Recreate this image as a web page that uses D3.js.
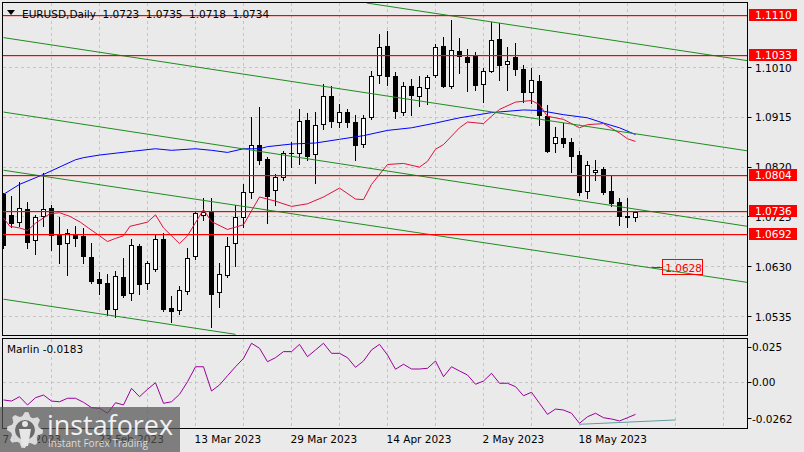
<!DOCTYPE html>
<html lang="en">
<head>
<meta charset="UTF-8">
<script src="https://d3js.org/d3.v7.min.js"></script>
<style>
  body { margin: 0; background: #eaeaea; }
  svg { display: block; font-family: "DejaVu Sans", sans-serif; }
  .lbl { font-size: 10.5px; fill: #000; }
  .grid { stroke: #c4c4c4; stroke-width: 1; stroke-dasharray: 3,3; shape-rendering: crispEdges; }
</style>
</head>
<body>
<svg id="chart" width="804" height="452"></svg>
<script>
// ---- data ----
const dates = ["2023-02-07","2023-02-08","2023-02-09","2023-02-10","2023-02-13","2023-02-14","2023-02-15","2023-02-16","2023-02-17","2023-02-20",
  "2023-02-21","2023-02-22","2023-02-23","2023-02-24","2023-02-27","2023-02-28","2023-03-01","2023-03-02","2023-03-03","2023-03-06",
  "2023-03-07","2023-03-08","2023-03-09","2023-03-10","2023-03-13","2023-03-14","2023-03-15","2023-03-16","2023-03-17","2023-03-20",
  "2023-03-21","2023-03-22","2023-03-23","2023-03-24","2023-03-27","2023-03-28","2023-03-29","2023-03-30","2023-03-31","2023-04-03",
  "2023-04-04","2023-04-05","2023-04-06","2023-04-07","2023-04-10","2023-04-11","2023-04-12","2023-04-13","2023-04-14","2023-04-17",
  "2023-04-18","2023-04-19","2023-04-20","2023-04-21","2023-04-24","2023-04-25","2023-04-26","2023-04-27","2023-04-28","2023-05-01",
  "2023-05-02","2023-05-03","2023-05-04","2023-05-05","2023-05-08","2023-05-09","2023-05-10","2023-05-11","2023-05-12","2023-05-15",
  "2023-05-16","2023-05-17","2023-05-18","2023-05-19","2023-05-22","2023-05-23","2023-05-24","2023-05-25","2023-05-26","2023-05-29"];

const opens = [1.0768,1.0727,1.0714,1.0739,1.0680,1.0726,1.0741,1.0689,1.0674,1.0691,
  1.0687,1.0647,1.0605,1.0598,1.0548,1.0609,1.0578,1.0668,1.0598,1.0624,
  1.0682,1.0550,1.0546,1.0582,1.0649,1.0727,1.0733,1.0580,1.0613,1.0674,
  1.0724,1.0771,1.0861,1.0834,1.0775,1.0800,1.0846,1.0846,1.0909,1.0844,
  1.0901,1.0955,1.0905,1.0924,1.0905,1.0863,1.0915,1.0995,1.1050,1.0993,
  1.0924,1.0974,1.0955,1.0970,1.0995,1.1050,1.0974,1.1041,1.1029,1.1031,
  1.0978,1.1002,1.1064,1.1016,1.1029,1.1006,1.0962,1.0983,1.0917,1.0865,
  1.0875,1.0867,1.0842,1.0773,1.0810,1.0815,1.0773,1.0752,1.0726,1.0723];
const highs = [1.0771,1.0764,1.0792,1.0754,1.0729,1.0809,1.0747,1.0725,1.0701,1.0707,
  1.0704,1.0675,1.0620,1.0617,1.0622,1.0647,1.0682,1.0674,1.0640,1.0693,
  1.0695,1.0575,1.0594,1.0666,1.0737,1.0762,1.0762,1.0638,1.0687,1.0747,
  1.0787,1.0915,1.0934,1.0840,1.0806,1.0850,1.0867,1.0930,1.0924,1.0926,
  1.0978,1.0974,1.0941,1.0930,1.0920,1.0920,1.1004,1.1073,1.1079,1.1002,
  1.0983,1.0989,1.0993,1.0995,1.1054,1.1069,1.1100,1.1066,1.1046,1.1039,
  1.1010,1.1096,1.1094,1.1050,1.1056,1.1014,1.1010,1.0995,1.0939,1.0896,
  1.0905,1.0876,1.0850,1.0831,1.0834,1.0821,1.0804,1.0762,1.0762,1.0735];
const lows = [1.0666,1.0706,1.0708,1.0666,1.0655,1.0707,1.0661,1.0637,1.0615,1.0670,
  1.0638,1.0599,1.0578,1.0538,1.0535,1.0573,1.0567,1.0577,1.0588,1.0622,
  1.0546,1.0525,1.0540,1.0577,1.0645,1.0720,1.0515,1.0554,1.0611,1.0632,
  1.0705,1.0762,1.0825,1.0714,1.0748,1.0796,1.0821,1.0825,1.0834,1.0790,
  1.0892,1.0896,1.0897,1.0897,1.0834,1.0859,1.0911,1.0981,1.0976,1.0913,
  1.0920,1.0920,1.0936,1.0941,1.0991,1.0972,1.0970,1.0999,1.0966,1.0968,
  1.0945,1.1001,1.0987,1.0968,1.0995,1.0945,1.0943,1.0901,1.0848,1.0848,
  1.0859,1.0811,1.0766,1.0762,1.0796,1.0768,1.0745,1.0710,1.0705,1.0718];
const closes = [1.0670,1.0712,1.0741,1.0676,1.0723,1.0739,1.0689,1.0673,1.0694,1.0684,
  1.0649,1.0601,1.0598,1.0548,1.0611,1.0575,1.0670,1.0596,1.0636,1.0682,
  1.0548,1.0544,1.0584,1.0645,1.0731,1.0733,1.0577,1.0615,1.0668,1.0724,
  1.0771,1.0861,1.0832,1.0764,1.0800,1.0846,1.0845,1.0907,1.0840,1.0899,
  1.0955,1.0907,1.0924,1.0905,1.0861,1.0913,1.0993,1.1048,1.0993,1.0926,
  1.0974,1.0957,1.0972,1.0991,1.1048,1.0974,1.1043,1.1031,1.1020,1.0976,
  1.1002,1.1062,1.1014,1.1022,1.1006,1.0962,1.0985,1.0918,1.0850,1.0876,
  1.0865,1.0840,1.0771,1.0823,1.0813,1.0771,1.0750,1.0726,1.0723,1.0734];

// moving averages, [bar index, price]
const maFast = [[0,1.0723],[0.8,1.0707],[2,1.0704],[3,1.0699],[4,1.0713],[5,1.0723],[5.8,1.0731],[7,1.0733],
  [8.3,1.0726],[9.6,1.0715],[10.6,1.0704],[12,1.0689],[13,1.0678],[14,1.0684],[15,1.0689],[15.8,1.0707],
  [18,1.0715],[19,1.0729],[20,1.0704],[22,1.0674],[23,1.0689],[25,1.0739],[26,1.0716],[28,1.0701],
  [30,1.0710],[32,1.0763],[34,1.0755],[36,1.0745],[38,1.0750],[40,1.0763],[42,1.0780],[44,1.0759],[45,1.0758],
  [46,1.0787],[48,1.0825],[50,1.0827],[52,1.0820],[53,1.0831],[54,1.0854],[55,1.0863],[57,1.0895],[58,1.0906],
  [60,1.0903],[61,1.0917],[62,1.0930],[64,1.0944],[66,1.0947],[67,1.0939],[68,1.0917],[70,1.0911],[72,1.0895],
  [73,1.0901],[75,1.0903],[77,1.0885],[78,1.0874],[79,1.0869]];
const maSlow = [[0,1.0768],[2,1.0787],[5,1.0806],[9,1.0834],[10,1.0838],[12,1.0843],[16,1.0850],[19,1.0855],
  [21,1.0852],[24,1.0855],[26,1.0852],[28,1.0848],[30,1.0855],[32,1.0855],[33,1.0859],[36,1.0864],[39,1.0866],
  [42,1.0873],[45,1.0880],[48,1.0890],[51,1.0895],[54,1.0904],[57,1.0914],[61,1.0924],[65,1.0929],[67,1.0928],
  [70,1.0920],[73,1.0914],[75,1.0904],[77,1.0895],[79,1.0882]];

// Marlin oscillator, one value per bar
const marlin = [-0.0126,-0.0134,-0.0103,-0.0162,-0.0110,-0.0091,-0.0134,-0.0139,-0.0114,-0.0114,
  -0.0143,-0.0181,-0.0186,-0.0221,-0.0146,-0.0162,-0.0043,-0.0103,-0.0050,-0.0003,
  -0.0150,-0.0139,-0.0086,0.0004,0.0111,0.0111,-0.0062,-0.0019,0.0047,0.0111,
  0.0171,0.0279,0.0243,0.0147,0.0176,0.0219,0.0219,0.0271,0.0183,0.0231,
  0.0279,0.0207,0.0207,0.0176,0.0107,0.0152,0.0231,0.0271,0.0195,0.0093,
  0.0129,0.0095,0.0095,0.0100,0.0152,0.0040,0.0111,0.0081,0.0052,-0.0014,
  0.0009,0.0064,-0.0007,-0.0007,-0.0031,-0.0096,-0.0071,-0.0150,-0.0229,-0.0191,
  -0.0198,-0.0221,-0.0293,-0.0246,-0.0221,-0.0253,-0.0262,-0.0276,-0.0253,-0.0229];
const marlinLevel = [[72,-0.0300],[84,-0.0269]];
const marlinReading = -0.0183;

// drawn objects
const levels = [1.1110, 1.1033, 1.0804, 1.0736, 1.0692];
const channels = [[45.4,1.1133,93,1.1023],[0,1.1067,93,1.0851],[0,1.0925,93,1.0707],[0,1.0814,93,1.0600],[0,1.0568,29,1.0501]];
const target = {i: 82.4, price: 1.0628};

const priceTicks = [1.1010, 1.0915, 1.0820, 1.0725, 1.0630, 1.0535];
const marlinTicks = [0.025, 0, -0.0262];
const marlinTickLabels = ["0.025", "0.00", "-0.0262"];
const dateTickEvery = 12;
const titleValues = ["1.0723", "1.0735", "1.0718", "1.0734"];

// ---- layout ----
const svg = d3.select("#chart");
const plot = {left: 2.5, right: 747.5, top: 2.5, bottom: 335.5};
const sub = {top: 338.5, bottom: 428.5};

const x = d3.scaleLinear().domain([0, 79]).range([3.5, 635.5]);
const y = d3.scaleLinear().domain([1.1010, 1.0535]).range([67.5, 316.5]);
const ym = d3.scaleLinear().domain([0, 0.025]).range([382.3, 347.3]);
const snap = v => Math.round(v - 0.5) + 0.5;
const fmtDate = d3.utcFormat("%-d %b %Y");

svg.append("rect").attr("width", 804).attr("height", 452).attr("fill", "#eaeaea");

const defs = svg.append("defs");
defs.append("clipPath").attr("id", "clipMain").append("rect")
    .attr("x", plot.left).attr("y", plot.top).attr("width", plot.right - plot.left).attr("height", plot.bottom - plot.top);
defs.append("clipPath").attr("id", "clipSub").append("rect")
    .attr("x", plot.left).attr("y", sub.top).attr("width", plot.right - plot.left).attr("height", sub.bottom - sub.top);

// grid: verticals every 6 bars, horizontals on price ticks
const vGrid = d3.range(6, 94, 6);
[[plot.top, plot.bottom], [sub.top, sub.bottom]].forEach(([t, b]) => {
    svg.append("g").selectAll("line").data(vGrid).join("line")
        .attr("class", "grid")
        .attr("x1", d => x(d)).attr("x2", d => x(d))
        .attr("y1", t).attr("y2", b);
});
svg.append("g").selectAll("line").data(priceTicks).join("line")
    .attr("class", "grid")
    .attr("x1", plot.left).attr("x2", plot.right)
    .attr("y1", d => snap(y(d))).attr("y2", d => snap(y(d)));
svg.append("line").attr("class", "grid")
    .attr("x1", plot.left).attr("x2", plot.right)
    .attr("y1", snap(ym(0))).attr("y2", snap(ym(0)));

const main = svg.append("g").attr("clip-path", "url(#clipMain)");

// candles
const candles = dates.map((d, i) => ({i, o: opens[i], h: highs[i], l: lows[i], c: closes[i]}));
main.selectAll("line.wick").data(candles).join("line")
    .attr("class", "wick")
    .attr("x1", d => x(d.i)).attr("x2", d => x(d.i))
    .attr("y1", d => Math.round(y(d.h))).attr("y2", d => Math.round(y(d.l)) + 1)
    .attr("stroke", "#000");
const bodyTop = d => snap(y(Math.max(d.o, d.c)));
const bodyBot = d => snap(y(Math.min(d.o, d.c)));
main.selectAll("rect.body").data(candles.filter(d => bodyBot(d) > bodyTop(d))).join("rect")
    .attr("class", "body")
    .attr("x", d => x(d.i) - 2).attr("width", 4)
    .attr("y", bodyTop).attr("height", d => bodyBot(d) - bodyTop(d))
    .attr("fill", d => d.c >= d.o ? "#ffffff" : "#000000")
    .attr("stroke", "#000").attr("stroke-width", 1);
main.selectAll("line.doji").data(candles.filter(d => bodyBot(d) <= bodyTop(d))).join("line")
    .attr("class", "doji")
    .attr("x1", d => x(d.i) - 2.5).attr("x2", d => x(d.i) + 2.5)
    .attr("y1", bodyTop).attr("y2", bodyTop)
    .attr("stroke", "#000");

// moving averages
const maLine = d3.line().x(d => x(d[0])).y(d => y(d[1]));
main.append("path").datum(maSlow).attr("d", maLine)
    .attr("fill", "none").attr("stroke", "#0000ff").attr("stroke-width", 1);
main.append("path").datum(maFast).attr("d", maLine)
    .attr("fill", "none").attr("stroke", "#e0103c").attr("stroke-width", 1);

// channel lines
main.selectAll("line.chan").data(channels).join("line")
    .attr("class", "chan")
    .attr("x1", d => x(d[0])).attr("y1", d => y(d[1]))
    .attr("x2", d => x(d[2])).attr("y2", d => y(d[3]))
    .attr("stroke", "#1e8c1e").attr("stroke-width", 1);

// horizontal levels on top, as 1px filled strips
main.selectAll("rect.level").data(levels).join("rect")
    .attr("class", "level")
    .attr("x", plot.left).attr("width", plot.right - plot.left)
    .attr("y", d => Math.floor(y(d))).attr("height", 1.2)
    .attr("fill", "#ff0000");

// target mark
const ty = snap(y(target.price));
main.append("rect").attr("x", x(target.i) - 11).attr("width", 11)
    .attr("y", ty - 0.5).attr("height", 1).attr("fill", "#ff0000");
main.append("rect").attr("x", snap(x(target.i))).attr("y", ty - 8)
    .attr("width", 40).attr("height", 15).attr("fill", "none").attr("stroke", "#ff0000")
    .attr("shape-rendering", "crispEdges");
main.append("text").attr("class", "lbl").attr("x", x(target.i) + 2.5).attr("y", ty + 4)
    .style("fill", "#ff0000").text(target.price.toFixed(4));

// Marlin panel
const subG = svg.append("g").attr("clip-path", "url(#clipSub)");
subG.append("path").datum(marlin)
    .attr("d", d3.line().x((d, i) => x(i)).y(d => ym(d)))
    .attr("fill", "none").attr("stroke", "#990099").attr("stroke-width", 1);
subG.append("path").datum(marlinLevel)
    .attr("d", d3.line().x(d => x(d[0])).y(d => ym(d[1])))
    .attr("fill", "none").attr("stroke", "#5f9ea0").attr("stroke-width", 1);

// frames
[[plot.top, plot.bottom], [sub.top, sub.bottom]].forEach(([t, b]) => {
    svg.append("rect").attr("x", plot.left).attr("y", t)
        .attr("width", plot.right - plot.left).attr("height", b - t)
        .attr("fill", "none").attr("stroke", "#000").attr("stroke-width", 1)
        .attr("shape-rendering", "crispEdges");
});

// right price axis
const axisG = svg.append("g");
axisG.selectAll("line").data(priceTicks).join("line")
    .attr("x1", plot.right).attr("x2", plot.right + 4)
    .attr("y1", d => snap(y(d))).attr("y2", d => snap(y(d))).attr("stroke", "#000");
axisG.selectAll("text").data(priceTicks).join("text")
    .attr("class", "lbl").attr("x", 755).attr("y", d => y(d) + 4)
    .text(d => d.toFixed(4));

// level tags
const tags = svg.append("g");
tags.selectAll("rect").data(levels).join("rect")
    .attr("x", 749).attr("y", d => Math.round(y(d)) - 6)
    .attr("width", 48).attr("height", 12).attr("fill", "#ff0000");
tags.selectAll("text").data(levels).join("text")
    .attr("class", "lbl").attr("x", 755).attr("y", d => y(d) + 4)
    .style("fill", "#ffffff").text(d => d.toFixed(4));

// Marlin axis
const mAxis = svg.append("g");
mAxis.selectAll("line").data(marlinTicks).join("line")
    .attr("x1", plot.right).attr("x2", plot.right + 4)
    .attr("y1", d => snap(ym(d))).attr("y2", d => snap(ym(d))).attr("stroke", "#000");
mAxis.selectAll("text").data(marlinTicks).join("text")
    .attr("class", "lbl").attr("x", 752).attr("y", d => ym(d) + 4)
    .text((d, i) => marlinTickLabels[i]);

svg.append("text").attr("class", "lbl").attr("x", 7).attr("y", 353)
    .text("Marlin " + marlinReading.toFixed(4));

// date axis
const dateIdx = d3.range(0, dates.length, dateTickEvery);
svg.append("g").selectAll("text").data(dateIdx).join("text")
    .attr("class", "lbl").attr("x", d => x(d) - 1).attr("y", 443)
    .text(d => fmtDate(new Date(dates[d] + "T00:00:00Z")));

// title
svg.append("path").attr("d", "M7,10 L15,10 L11,15 Z").attr("fill", "#000");
svg.append("text").attr("class", "lbl").attr("x", 22).attr("y", 17.5).text("EURUSD,Daily");
svg.append("g").selectAll("text").data(titleValues).join("text")
    .attr("class", "lbl").attr("x", (d, i) => 102.5 + i * 43.3).attr("y", 17.5).text(d => d);

// watermark
const wm = svg.append("g");
wm.append("rect").attr("x", 0).attr("y", 407).attr("width", 180).attr("height", 45)
    .attr("fill", "#555").attr("opacity", 0.72);
const gear = [];
for (let k = 0; k < 32; k++) {
    const a = (k / 32) * Math.PI * 2;
    const r = (Math.floor(k / 2) % 2 === 0) ? 18 : 14;
    gear.push([25 + r * Math.cos(a), 430 + r * Math.sin(a)]);
}
wm.append("path").attr("d", "M" + gear.map(p => p.join(",")).join("L") + "Z")
    .attr("fill", "#e6e6e6").attr("opacity", 0.9);
wm.append("circle").attr("cx", 25).attr("cy", 430).attr("r", 10).attr("fill", "#6a6a6a");
wm.append("circle").attr("cx", 25).attr("cy", 424).attr("r", 3).attr("fill", "#e6e6e6");
wm.append("path").attr("d", "M19,429 L31,429 L28,446 L22,446 Z").attr("fill", "#e6e6e6");
wm.append("text").attr("x", 47).attr("y", 435).attr("font-family", "Open Sans, sans-serif")
    .attr("font-size", 28).attr("fill", "#f2f2f2").attr("textLength", 126)
    .attr("lengthAdjust", "spacingAndGlyphs").text("instaforex");
wm.append("text").attr("x", 48).attr("y", 447).attr("font-family", "Open Sans, sans-serif")
    .attr("font-size", 10.5).attr("fill", "#dcdcdc").attr("textLength", 100)
    .attr("lengthAdjust", "spacingAndGlyphs").text("Instant Forex Trading");
</script>
</body>
</html>
